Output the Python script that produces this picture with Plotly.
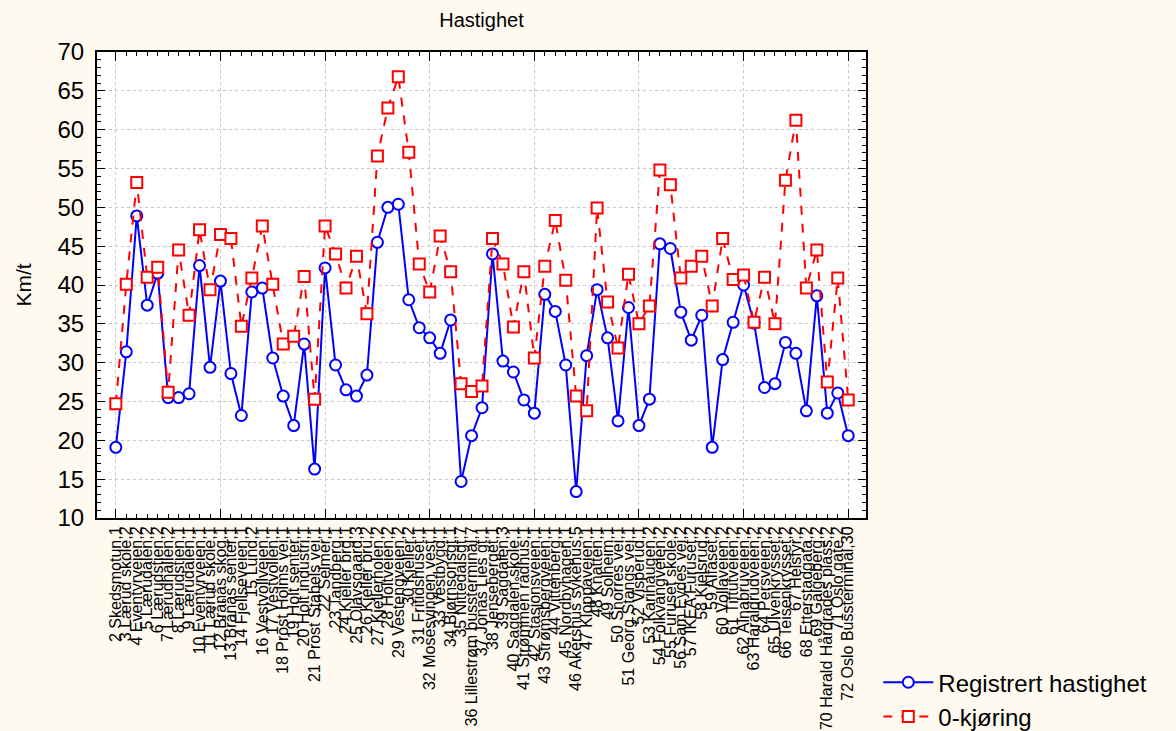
import plotly.graph_objects as go

stops = [
    "2 Skedsmotun,1", "3 Lærud skole,2", "4 Eventyrveien,2", "5 Lærudalen,2",
    "6 Lærudstien,2", "7 Lærudhallen,2", "8 Lærudstien,1", "9 Lærudalen,1",
    "10 Eventyrveien,1", "11 Lærud skole,1", "12 Brånås skog,1", "13 Brånås senter,1",
    "14 Fjellseveien,1", "15 Lund,2", "16 Vestvollveien,1", "17 Vestvollen,1",
    "18 Prost Holms vei,1", "19 Holt senter,1", "20 Holt industri,1", "21 Prost Stabels vei,1",
    "22 Selmer,1", "23 Tandberg,1", "24 Kjeller brg,1", "25 Olavsgaard,3",
    "26 Kjeller bru,2", "27 Kjellerholen,2", "28 Holtveien,2", "29 Vestengveien,2",
    "30 Kjeller,2", "31 Fritidshuset,1", "32 Mosesvingen vest,1", "33 Vestbygd,1",
    "34 Bjørnsonsgt,1", "35 Nittedalsgt,7", "36 Lillestrøm bussterminal,7", "37 Jonas Lies gt,1",
    "38 Jenseberget,1", "39 Sagdalen,3", "40 Sagdalen skole,1", "41 Strømmen rådhus,1",
    "42 Stasjonsveien,1", "43 Strømsbergveien,1", "44 Vittenberg,1", "45 Nordbyhagen,1",
    "46 Akershus sykehus,5", "47 Kloppaveien,1", "48 Knatten,1", "49 Solheim,1",
    "50 Snorres vei,1", "51 Georg Stangs vei,1", "52 Visperud,1", "53 Karihaugen,2",
    "54 Folkvangveien,2", "55 Furuset skole,2", "56 Sam Eydes vei,2", "57 IKEA Furuset,2",
    "58 Kjelsrud,2", "59 Alfaset,2", "60 Vollaveien,2", "61 Tiftutveien,2",
    "62 Alnabruveien,2", "63 Haraldrudveien,2", "64 Persveien,2", "65 Ulvenkrysset,2",
    "66 Teisenkrysset,2", "67 Helsfyr,2", "68 Etterstadgata,2", "69 Galgeberg,2",
    "70 Harald Hårdrades plass,2", "71 Oslo gate,2", "72 Oslo Bussterminal,30",
]

registrert = [
    19.1, 31.4, 48.9, 37.4, 41.5, 25.5, 25.5, 26.0, 42.5, 29.4,
    40.5, 28.6, 23.2, 39.1, 39.6, 30.6, 25.7, 21.9, 32.4, 16.3,
    42.2, 29.7, 26.5, 25.7, 28.4, 45.5, 50.0, 50.4, 38.1, 34.5,
    33.2, 31.2, 35.5, 14.7, 20.6, 24.2, 44.0, 30.2, 28.8, 25.2,
    23.5, 38.8, 36.6, 29.7, 13.4, 30.9, 39.4, 33.2, 22.5, 37.1,
    21.9, 25.3, 45.3, 44.7, 36.5, 32.9, 36.1, 19.1, 30.4, 35.2,
    40.0, 35.1, 26.8, 27.3, 32.6, 31.2, 23.8, 38.6, 23.5, 26.1,
    20.6,
]

nullkjoring = [
    24.7, 40.1, 53.2, 41.0, 42.3, 26.2, 44.5, 36.1, 47.1, 39.4,
    46.5, 46.0, 34.7, 40.9, 47.6, 40.1, 32.4, 33.4, 41.1, 25.3,
    47.6, 44.0, 39.6, 43.7, 36.3, 56.6, 62.8, 66.8, 57.1, 42.7,
    39.1, 46.3, 41.7, 27.3, 26.3, 27.0, 46.0, 42.7, 34.6, 41.7,
    30.6, 42.4, 48.3, 40.6, 25.7, 23.8, 49.9, 37.8, 31.9, 41.4,
    35.0, 37.3, 54.8, 52.9, 40.9, 42.4, 43.7, 37.3, 46.0, 40.7,
    41.3, 35.2, 41.0, 35.0, 53.5, 61.2, 39.6, 44.5, 27.5, 40.9,
    25.2,
]

pos = list(range(1, len(stops) + 1))

fig = go.Figure()
fig.add_trace(go.Scatter(
    x=pos, y=registrert, name="Registrert hastighet", mode="lines+markers",
    line=dict(color="#0000ff", width=2),
    marker=dict(symbol="circle", size=11, color="white", line=dict(color="#0000ff", width=2)),
))
fig.add_trace(go.Scatter(
    x=pos, y=nullkjoring, name="0-kjøring", mode="lines+markers",
    line=dict(color="#ff0000", width=2, dash="dash"),
    marker=dict(symbol="square", size=11, color="white", line=dict(color="#ff0000", width=2)),
))

fig.update_layout(
    width=1176, height=731,
    margin=dict(l=97, r=310, t=52, b=213, autoexpand=False),
    paper_bgcolor="#fffaf0", plot_bgcolor="white",
    font=dict(family="Liberation Sans, Arial", color="black"),
    title=dict(text="Hastighet", x=0.5, xref="paper", y=0.972, yanchor="middle",
               font=dict(size=20)),
    showlegend=True,
    legend=dict(x=1.016, xanchor="left", y=-0.305, yanchor="top", itemwidth=50,
                bgcolor="rgba(0,0,0,0)", font=dict(size=24), tracegroupgap=0),
)

fig.update_xaxes(
    range=[-0.8, 72.7], tickmode="array", tickvals=pos, ticktext=stops,
    tickangle=-90, tickfont=dict(size=16), automargin=False,
    ticks="inside", ticklen=4, tickwidth=1, tickcolor="black",
    showgrid=False, zeroline=False,
    showline=True, linecolor="black", linewidth=2, mirror="ticks",
    minor=dict(tickmode="array", tickvals=pos[::10], ticks="inside", ticklen=9,
               tickcolor="black", showgrid=True, gridcolor="#c8c8c8", griddash="dot"),
)
fig.update_yaxes(
    range=[10, 70], dtick=5, tickfont=dict(size=24), automargin=False,
    ticks="inside", ticklen=8, tickwidth=1, tickcolor="black", ticklabelstandoff=6,
    showgrid=True, gridcolor="#c8c8c8", griddash="dot", zeroline=False,
    showline=True, linecolor="black", linewidth=2, mirror="ticks",
    minor=dict(dtick=1, ticks="inside", ticklen=4, tickcolor="black", showgrid=False),
    title=dict(text="Km/t", font=dict(size=21), standoff=20),
)

fig.write_html("out.html", config={"displayModeBar": False},
               post_script="document.body.style.margin = '0';")
